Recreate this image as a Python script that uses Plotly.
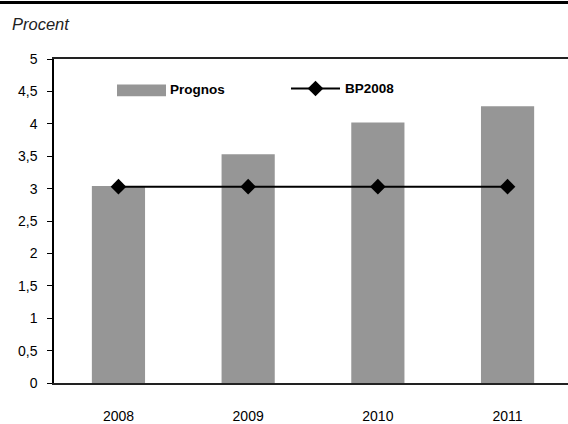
import plotly.graph_objects as go

years = ["2008", "2009", "2010", "2011"]
prognos = [3.04, 3.53, 4.02, 4.27]
bp2008 = [3.03, 3.03, 3.03, 3.03]
y_ticks = [0, 0.5, 1, 1.5, 2, 2.5, 3, 3.5, 4, 4.5, 5]

FONT = "Liberation Sans, Arial, sans-serif"

L, R, T, B = 54, 0, 59, 35
W, H = 568, 424
PW, PH = W - L - R, H - T - B

def px(x):
    return (x - L) / PW

def py(y):
    return (H - B - y) / PH

fig = go.Figure()
fig.add_trace(go.Bar(x=years, y=prognos, name="Prognos", marker=dict(color="#969696", line=dict(width=0)),
                     showlegend=False))
fig.add_trace(go.Scatter(x=years, y=bp2008, name="BP2008", mode="lines+markers",
                         line=dict(color="black", width=2),
                         marker=dict(symbol="diamond", size=12, color="black"),
                         showlegend=False))

shapes = [
    # top rule
    dict(type="line", xref="paper", yref="paper", x0=px(0), x1=px(W), y0=py(1.5), y1=py(1.5),
         line=dict(color="black", width=3)),
    # legend swatch for Prognos
    dict(type="rect", xref="paper", yref="paper", x0=px(117), x1=px(166), y0=py(97), y1=py(85),
         fillcolor="#969696", line=dict(width=0)),
    # legend line for BP2008
    dict(type="line", xref="paper", yref="paper", x0=px(291), x1=px(340), y0=py(89), y1=py(89),
         line=dict(color="black", width=2)),
]
fig.add_trace(go.Scatter(x=[px(315.5)], y=[py(89)], xaxis="x2", yaxis="y2", mode="markers",
                         marker=dict(symbol="diamond", size=12, color="black"), showlegend=False,
                         hoverinfo="skip", cliponaxis=False))

annotations = [
    dict(text="<i>Procent</i>", xref="paper", yref="paper", x=px(10), y=py(23), xanchor="left",
         yanchor="middle", showarrow=False, font=dict(family=FONT, size=16.5, color="#222")),
    dict(text="<b>Prognos</b>", xref="paper", yref="paper", x=px(168), y=py(90), xanchor="left",
         yanchor="middle", showarrow=False, font=dict(family=FONT, size=13.5, color="black")),
    dict(text="<b>BP2008</b>", xref="paper", yref="paper", x=px(343), y=py(89), xanchor="left",
         yanchor="middle", showarrow=False, font=dict(family=FONT, size=13.5, color="black")),
]

fig.update_layout(
    width=W, height=H,
    margin=dict(l=L, r=R, t=T, b=B, pad=0),
    paper_bgcolor="white", plot_bgcolor="white",
    separators=", ",
    bargap=0.59,
    showlegend=False,
    shapes=shapes,
    annotations=annotations,
    font=dict(family=FONT, size=14, color="black"),
    xaxis=dict(type="category", range=[-0.497, 3.466], showgrid=False, zeroline=False,
               showline=True, linecolor="#222", linewidth=1.5, mirror=True,
               ticks="", ticklabelstandoff=19, tickfont=dict(family=FONT, size=14)),
    yaxis=dict(range=[0, 5], tickvals=y_ticks, showgrid=False, zeroline=False,
               showline=True, linecolor="black", linewidth=1.5,
               ticks="outside", ticklen=5, tickcolor="black", ticklabelstandoff=7,
               tickfont=dict(family=FONT, size=14)),
    xaxis2=dict(range=[0, 1], overlaying="x", visible=False, fixedrange=True),
    yaxis2=dict(range=[0, 1], overlaying="y", visible=False, fixedrange=True),
)

fig.write_html(
    "out.html",
    config={"displayModeBar": False, "responsive": False},
    post_script=("document.body.style.margin='0px';"
                 "document.body.style.overflow='hidden';"
                 "document.documentElement.style.overflow='hidden';"
                 "window.scrollTo(0,0);"),
)
